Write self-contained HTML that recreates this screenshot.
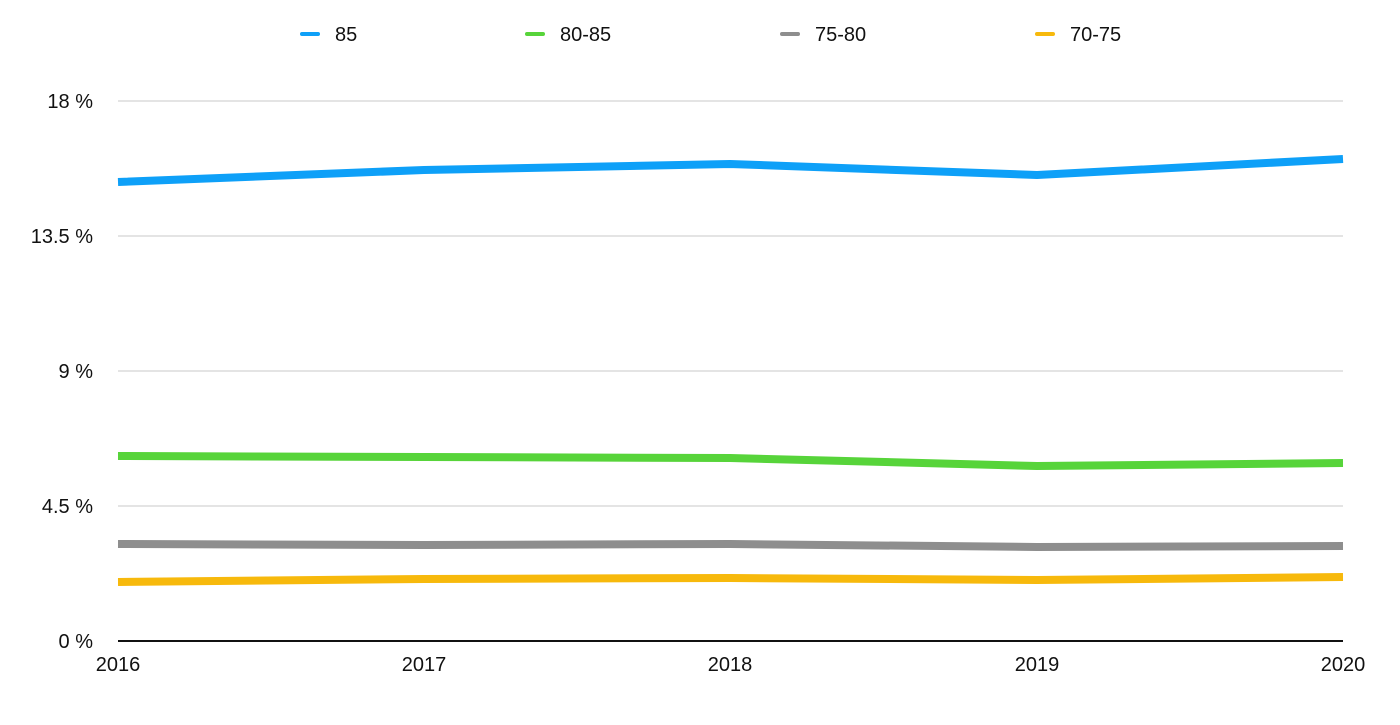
<!DOCTYPE html>
<html><head><style>body{margin:0;background:#fff}svg{display:block}text{font-family:"Liberation Sans",sans-serif;fill:#111}</style></head>
<body>
<svg width="1400" height="725" viewBox="0 0 1400 725">
<g stroke="#c8c8c8" stroke-width="1">
<line x1="118" y1="101" x2="1343" y2="101"/>
<line x1="118" y1="236" x2="1343" y2="236"/>
<line x1="118" y1="371" x2="1343" y2="371"/>
<line x1="118" y1="506" x2="1343" y2="506"/>
</g>
<line x1="118" y1="641" x2="1343" y2="641" stroke="#111" stroke-width="2"/>
<g font-size="20" text-anchor="end">
<text x="93" y="108">18 %</text>
<text x="93" y="243">13.5 %</text>
<text x="93" y="378">9 %</text>
<text x="93" y="513">4.5 %</text>
<text x="93" y="648">0 %</text>
</g>
<g font-size="20" text-anchor="middle">
<text x="118" y="671">2016</text>
<text x="424" y="671">2017</text>
<text x="730" y="671">2018</text>
<text x="1037" y="671">2019</text>
<text x="1343" y="671">2020</text>
</g>
<g fill="none" stroke-width="8" stroke-linejoin="round">
<polyline stroke="#0ea0f8" points="118,182 424,170 730,164 1037,175 1343,159"/>
<polyline stroke="#57d43a" points="118,456 424,457 730,458 1037,466 1343,463"/>
<polyline stroke="#8e8e8e" points="118,544 424,545 730,544 1037,547 1343,546"/>
<polyline stroke="#f7b90c" points="118,582 424,579 730,578 1037,580 1343,577"/>
</g>
<g stroke-width="4" stroke-linecap="round">
<line x1="302" y1="34" x2="318" y2="34" stroke="#0ea0f8"/>
<line x1="527" y1="34" x2="543" y2="34" stroke="#57d43a"/>
<line x1="782" y1="34" x2="798" y2="34" stroke="#8e8e8e"/>
<line x1="1037" y1="34" x2="1053" y2="34" stroke="#f7b90c"/>
</g>
<g font-size="20">
<text x="335" y="41">85</text>
<text x="560" y="41">80-85</text>
<text x="815" y="41">75-80</text>
<text x="1070" y="41">70-75</text>
</g>
</svg>
</body></html>
